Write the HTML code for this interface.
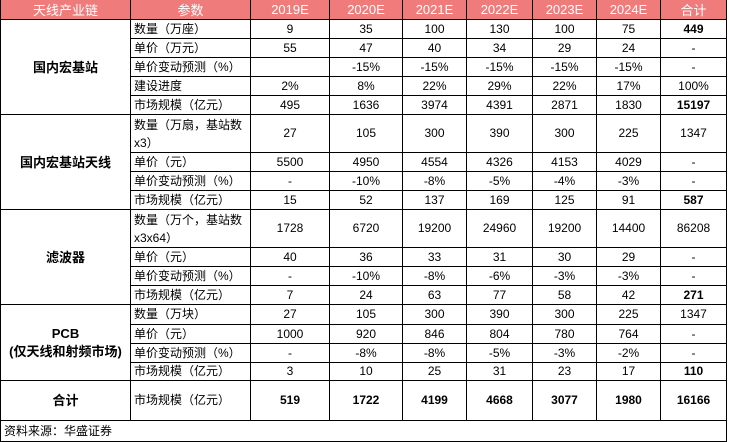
<!DOCTYPE html>
<html><head><meta charset="utf-8"><style>
body{margin:0;background:#fff;width:729px;height:442px;overflow:hidden}
table{position:absolute;left:0;top:0;border-collapse:collapse;table-layout:fixed;font-family:"Liberation Sans","Noto Sans CJK SC",sans-serif;font-size:12px;color:#000}
td{border:1px solid #000;padding:0 2px;text-align:center;white-space:nowrap;overflow:hidden;line-height:15px}
td.p{text-align:left;padding-left:3px}
td.w{white-space:normal;line-height:18px}
th{background:#ef7b7b;color:#fff;font-weight:normal;font-size:13px;border:1px solid #000;border-top:none;height:19px;padding:0}
.b{font-weight:bold}
td.g{font-weight:bold;font-size:13px}
</style></head><body>
<table>
<colgroup><col style="width:130px"><col style="width:120px"><col style="width:79px"><col style="width:73px"><col style="width:64px"><col style="width:66px"><col style="width:64px"><col style="width:64px"><col style="width:66px"></colgroup>
<tr><th>天线产业链</th><th>参数</th><th>2019E</th><th>2020E</th><th>2021E</th><th>2022E</th><th>2023E</th><th>2024E</th><th>合计</th></tr>
<tr style="height:19px"><td class="g" rowspan="5">国内宏基站</td><td class="p">数量（万座）</td><td>9</td><td>35</td><td>100</td><td>130</td><td>100</td><td>75</td><td class="b">449</td></tr>
<tr style="height:19px"><td class="p">单价（万元）</td><td>55</td><td>47</td><td>40</td><td>34</td><td>29</td><td>24</td><td>-</td></tr>
<tr style="height:19px"><td class="p">单价变动预测（%）</td><td></td><td>-15%</td><td>-15%</td><td>-15%</td><td>-15%</td><td>-15%</td><td>-</td></tr>
<tr style="height:19px"><td class="p">建设进度</td><td>2%</td><td>8%</td><td>22%</td><td>29%</td><td>22%</td><td>17%</td><td>100%</td></tr>
<tr style="height:19px"><td class="p">市场规模（亿元）</td><td>495</td><td>1636</td><td>3974</td><td>4391</td><td>2871</td><td>1830</td><td class="b">15197</td></tr>
<tr style="height:38px"><td class="g" rowspan="4">国内宏基站天线</td><td class="p w">数量（万扇，基站数x3）</td><td>27</td><td>105</td><td>300</td><td>390</td><td>300</td><td>225</td><td>1347</td></tr>
<tr style="height:19px"><td class="p">单价（元）</td><td>5500</td><td>4950</td><td>4554</td><td>4326</td><td>4153</td><td>4029</td><td>-</td></tr>
<tr style="height:19px"><td class="p">单价变动预测（%）</td><td>-</td><td>-10%</td><td>-8%</td><td>-5%</td><td>-4%</td><td>-3%</td><td>-</td></tr>
<tr style="height:19px"><td class="p">市场规模（亿元）</td><td>15</td><td>52</td><td>137</td><td>169</td><td>125</td><td>91</td><td class="b">587</td></tr>
<tr style="height:38px"><td class="g" rowspan="4">滤波器</td><td class="p w">数量（万个，基站数x3x64）</td><td>1728</td><td>6720</td><td>19200</td><td>24960</td><td>19200</td><td>14400</td><td>86208</td></tr>
<tr style="height:19px"><td class="p">单价（元）</td><td>40</td><td>36</td><td>33</td><td>31</td><td>30</td><td>29</td><td>-</td></tr>
<tr style="height:19px"><td class="p">单价变动预测（%）</td><td>-</td><td>-10%</td><td>-8%</td><td>-6%</td><td>-3%</td><td>-3%</td><td>-</td></tr>
<tr style="height:19px"><td class="p">市场规模（亿元）</td><td>7</td><td>24</td><td>63</td><td>77</td><td>58</td><td>42</td><td class="b">271</td></tr>
<tr style="height:20px"><td class="g" rowspan="4" style="line-height:18px">PCB<br>(仅天线和射频市场)</td><td class="p">数量（万块）</td><td>27</td><td>105</td><td>300</td><td>390</td><td>300</td><td>225</td><td>1347</td></tr>
<tr style="height:19px"><td class="p">单价（元）</td><td>1000</td><td>920</td><td>846</td><td>804</td><td>780</td><td>764</td><td>-</td></tr>
<tr style="height:19px"><td class="p">单价变动预测（%）</td><td>-</td><td>-8%</td><td>-8%</td><td>-5%</td><td>-3%</td><td>-2%</td><td>-</td></tr>
<tr style="height:18px"><td class="p">市场规模（亿元）</td><td>3</td><td>10</td><td>25</td><td>31</td><td>23</td><td>17</td><td class="b">110</td></tr>
<tr style="height:40px"><td class="g">合计</td><td class="p">市场规模（亿元）</td><td class="b">519</td><td class="b">1722</td><td class="b">4199</td><td class="b">4668</td><td class="b">3077</td><td class="b">1980</td><td class="b">16166</td></tr>
<tr style="height:21px"><td class="p" colspan="9" style="text-align:left">资料来源：华盛证券</td></tr>
</table>
</body></html>
